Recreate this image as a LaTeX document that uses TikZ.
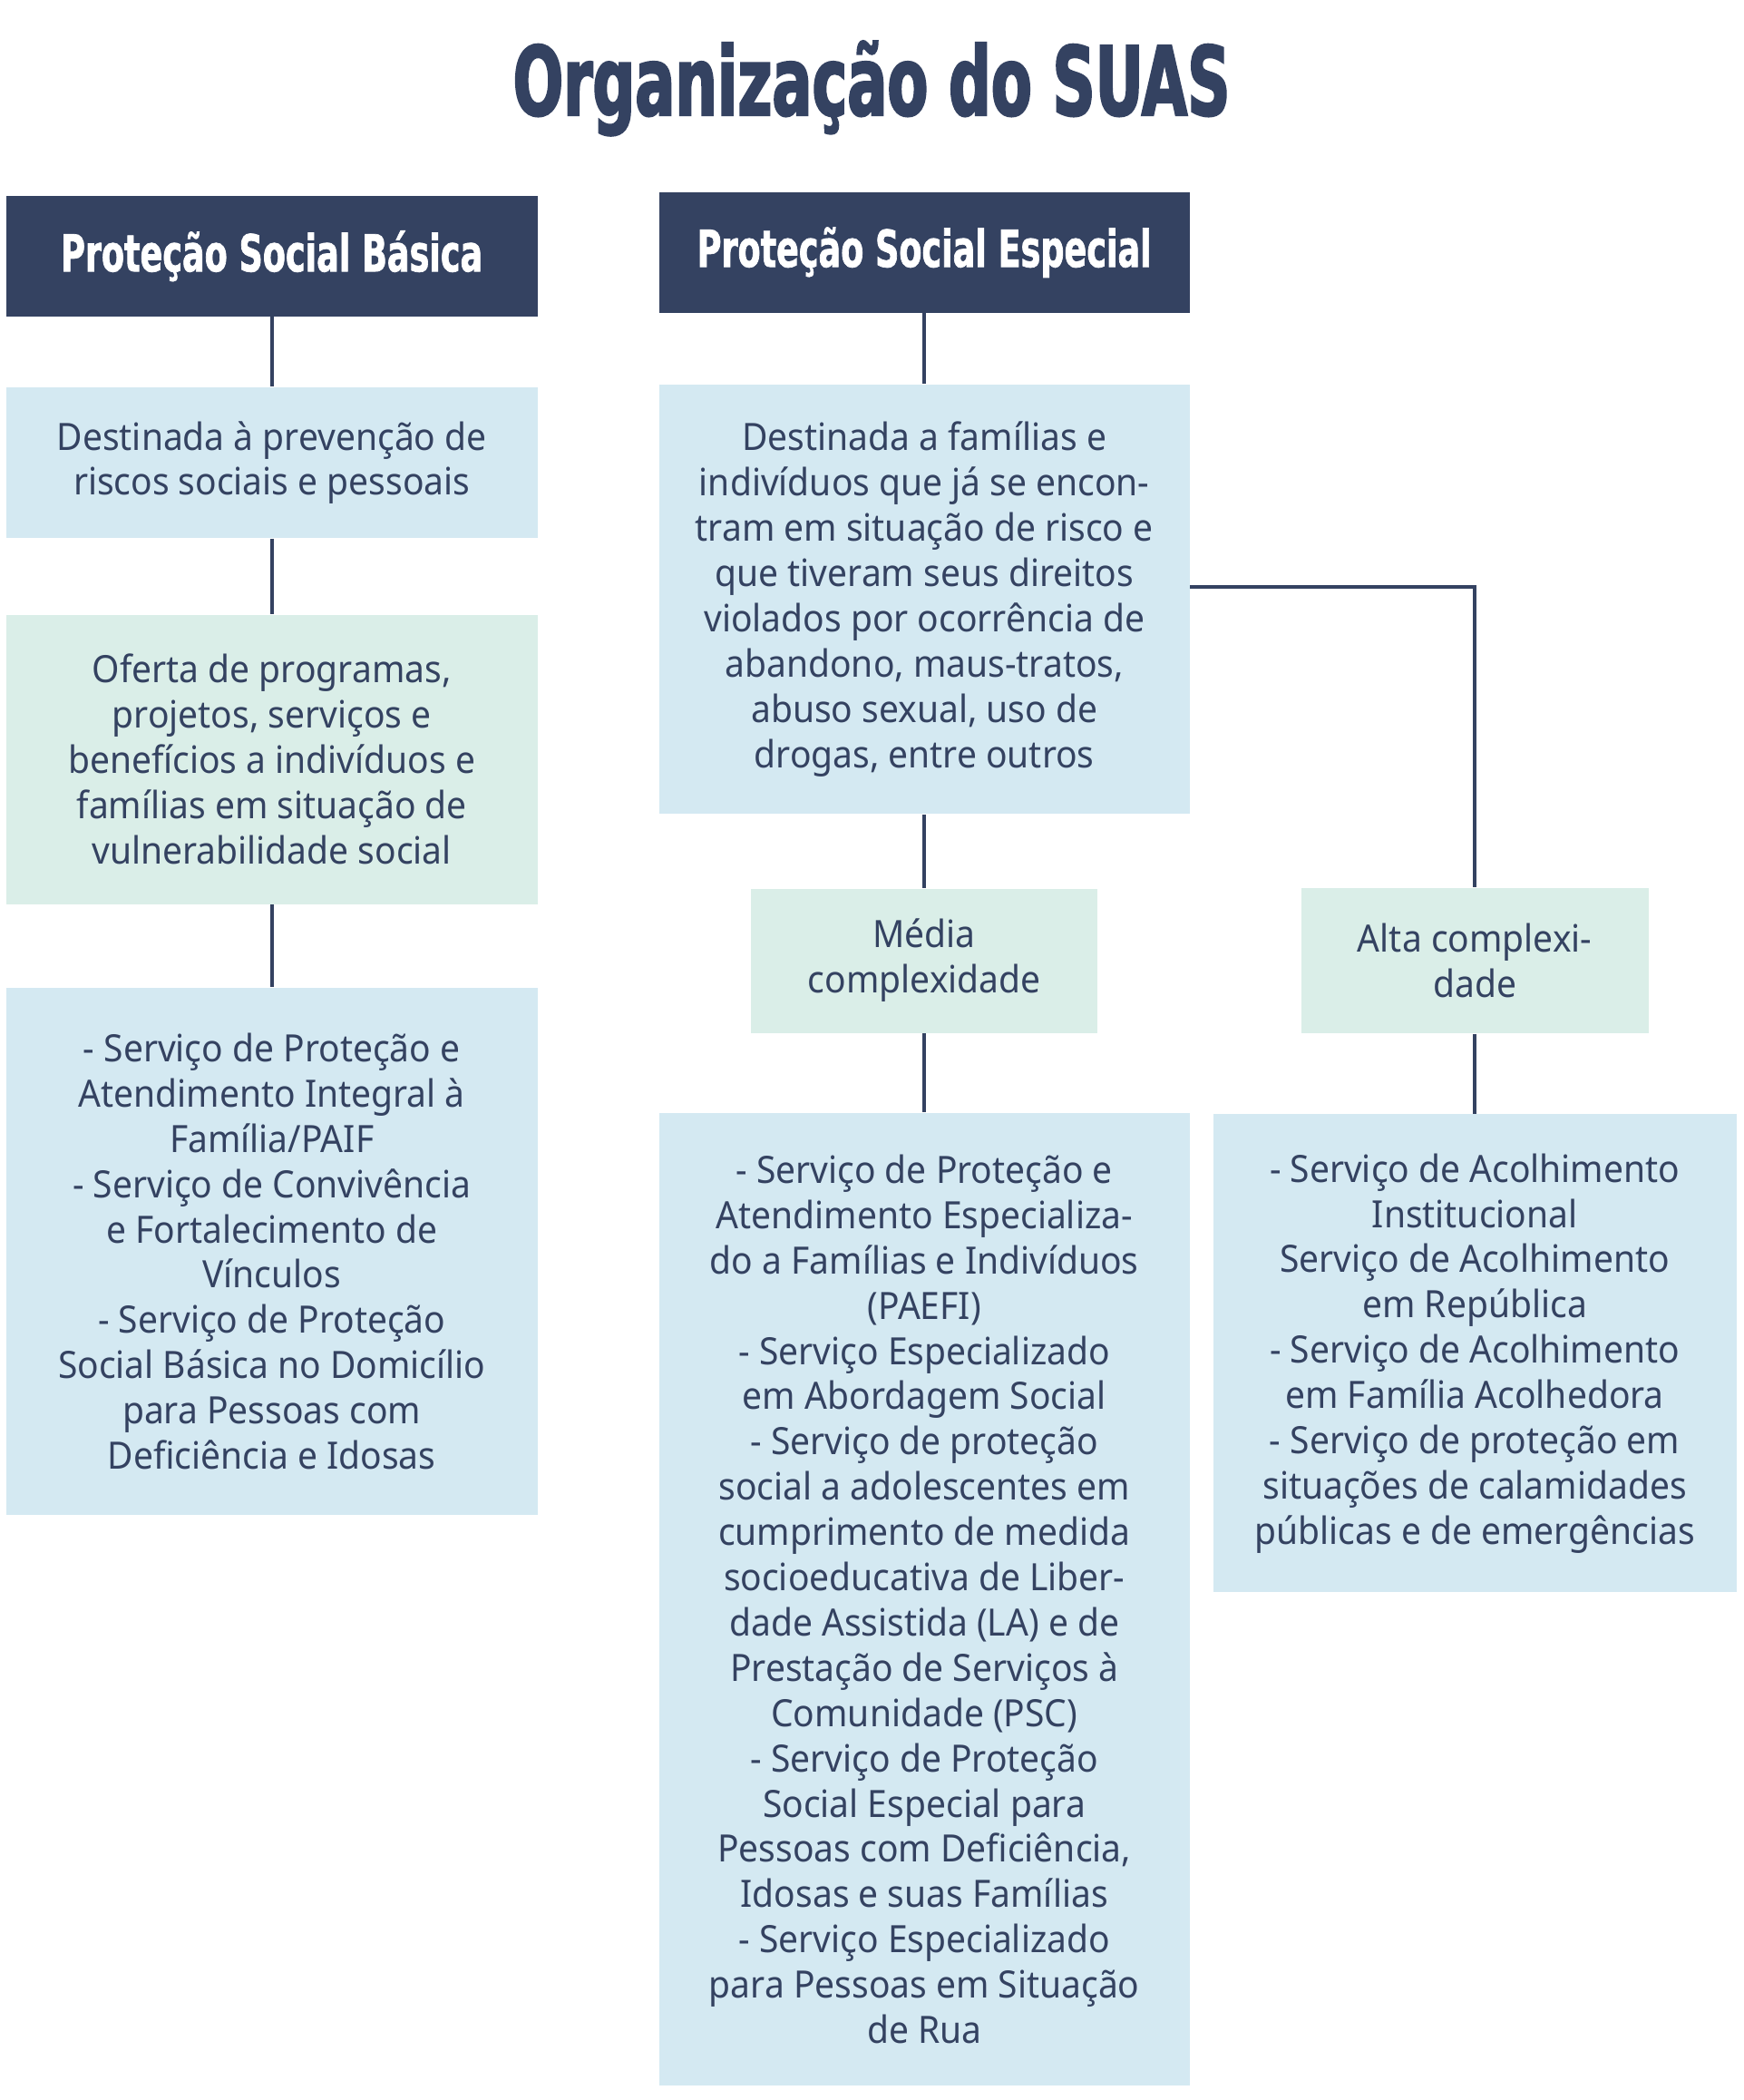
\documentclass[tikz,border=0pt]{standalone}
\usepackage{fontspec}
\setmainfont{Noto Sans}[FakeStretch=0.94]
\newfontfamily\titlefont{DejaVu Sans}[FakeStretch=0.62, FakeBold=2]
\newfontfamily\headfont{DejaVu Sans}[FakeStretch=0.65, FakeBold=1.2]
\usetikzlibrary{positioning}
\definecolor{SUASnavy}{RGB}{52,66,97}
\definecolor{SUASblue}{RGB}{212,233,242}
\definecolor{SUASgreen}{RGB}{218,238,232}
\tikzset{
    basicbox/.style={
        rectangle, align=center, inner sep=0pt, text=SUASnavy,
        font=\fontsize{11.8}{14.2}\selectfont
    },
    link/.style={draw=SUASnavy, line width=1.1pt},
}

\begin{document}
\begin{tikzpicture}[node distance=0.8cm]
    \tikzstyle{headbox}=[basicbox, fill=SUASnavy, text=white, font=\headfont\bfseries\fontsize{16}{18}\selectfont, minimum width=5.86cm, minimum height=1.33cm]
    \tikzstyle{bluebox}=[basicbox, fill=SUASblue, minimum width=5.86cm]
    \tikzstyle{greenbox}=[basicbox, fill=SUASgreen]

    \useasboundingbox (0,0) rectangle (19.22,-23.15);
    \fill[white] (0,0) rectangle (19.22,-23.15);

    % Title
    \node[anchor=base, text=SUASnavy, font=\titlefont\bfseries\fontsize{30}{32}\selectfont] (title) at (9.61,-1.27) {Organização do SUAS};

    % Basica column
    \node[headbox, anchor=north west] (basica) at (0.06,-2.15) {Proteção Social Básica};
    \node[bluebox, minimum height=1.66cm, below=0.77cm of basica] (prevencao) {Destinada à prevenção de\\riscos sociais e pessoais};
    \node[greenbox, minimum width=5.86cm, minimum height=3.19cm, below=0.83cm of prevencao] (oferta) {Oferta de programas,\\projetos, serviços e\\benefícios a indivíduos e\\famílias em situação de\\vulnerabilidade social};
    \node[bluebox, minimum height=5.81cm, below=0.91cm of oferta] (servbasica) {- Serviço de Proteção e\\Atendimento Integral à\\Família/PAIF\\- Serviço de Convivência\\e Fortalecimento de\\Vínculos\\- Serviço de Proteção\\Social Básica no Domicílio\\para Pessoas com\\Deficiência e Idosas};

    % Especial column
    \node[headbox, anchor=north west, minimum width=5.85cm] (especial) at (7.26,-2.11) {Proteção Social Especial};
    \node[bluebox, minimum width=5.85cm, minimum height=4.73cm, below=0.78cm of especial] (destinada) {Destinada a famílias e\\indivíduos que já se encon-\\tram em situação de risco e\\que tiveram seus direitos\\violados por ocorrência de\\abandono, maus-tratos,\\abuso sexual, uso de\\drogas, entre outros};
    \node[greenbox, minimum width=3.82cm, minimum height=1.59cm, below=0.81cm of destinada] (media) {Média\\complexidade};
    \node[greenbox, minimum width=3.83cm, minimum height=1.60cm, right=2.23cm of media] (alta) {Alta complexi-\\dade};
    \node[bluebox, minimum width=5.85cm, minimum height=10.72cm, below=0.87cm of media] (servmedia) {- Serviço de Proteção e\\Atendimento Especializa-\\do a Famílias e Indivíduos\\(PAEFI)\\- Serviço Especializado\\em Abordagem Social\\- Serviço de proteção\\social a adolescentes em\\cumprimento de medida\\socioeducativa de Liber-\\dade Assistida (LA) e de\\Prestação de Serviços à\\Comunidade (PSC)\\- Serviço de Proteção\\Social Especial para\\Pessoas com Deficiência,\\Idosas e suas Famílias\\- Serviço Especializado\\para Pessoas em Situação\\de Rua};
    \node[bluebox, minimum width=5.77cm, minimum height=5.27cm, below=0.88cm of alta] (servalta) {- Serviço de Acolhimento\\Institucional\\Serviço de Acolhimento\\em República\\- Serviço de Acolhimento\\em Família Acolhedora\\- Serviço de proteção em\\situações de calamidades\\públicas e de emergências};

    \draw[link] (basica) -- (prevencao);
    \draw[link] (prevencao) -- (oferta);
    \draw[link] (oferta) -- (servbasica);
    \draw[link] (especial) -- (destinada);
    \draw[link] (destinada) -- (media);
    \draw[link] ([yshift=1.4mm]destinada.east) -| (alta);
    \draw[link] (media) -- (servmedia);
    \draw[link] (alta) -- (servalta);
\end{tikzpicture}
\end{document}
